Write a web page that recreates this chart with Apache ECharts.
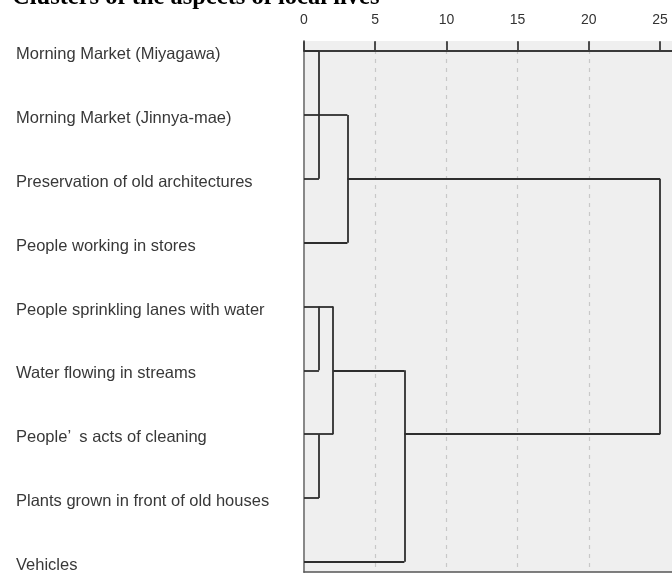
<!DOCTYPE html>
<html><head><meta charset="utf-8">
<script src="https://cdn.jsdelivr.net/npm/echarts@6/dist/echarts.min.js"></script>
<style>html,body{margin:0;padding:0;background:#fff}#c{width:672px;height:574px}</style>
</head><body><div id="c"></div>
<script>
const titleText = 'Clusters of the aspects of local lives';
const leafLabels = [
  'Morning Market (Miyagawa)',
  'Morning Market (Jinnya-mae)',
  'Preservation of old architectures',
  'People working in stores',
  'People sprinkling lanes with water',
  'Water flowing in streams',
  'People\u2019\u2002s acts of cleaning',
  'Plants grown in front of old houses',
  'Vehicles'
];
const tickValues = [0, 5, 10, 15, 20, 25];
// each merge: its children (L = leaf index, M = earlier merge index)
const mergeChildren = [
  ['L0', 'L1', 'L2'],
  ['M0', 'L3'],
  ['L4', 'L5'],
  ['L6', 'L7'],
  ['M2', 'M3'],
  ['M4', 'L8'],
  ['M1', 'M5']
];
const mergeDistances = [1.05, 3.05, 1.05, 1.05, 2.05, 7.05, 25];
const mergeRows = [1, 2, 4, 6, 5, 6, null];

const segments = [];
mergeChildren.forEach((children, i) => {
  const d = mergeDistances[i];
  const rows = [];
  children.forEach(c => {
    const idx = +c.slice(1);
    const row = c[0] === 'L' ? idx : mergeRows[idx];
    const from = c[0] === 'L' ? 0 : mergeDistances[idx];
    rows.push(row);
    segments.push({coords: [[from, row], [d, row]]});
  });
  segments.push({coords: [[d, Math.min(...rows)], [d, Math.max(...rows)]]});
});

const labelShift = 0.055;
const chart = echarts.init(document.getElementById('c'), null, {renderer: 'canvas'});
chart.setOption({
  animation: false,
  backgroundColor: '#fff',
  title: {
    text: titleText, left: 12, top: -15, padding: 0,
    textStyle: {fontFamily: 'Liberation Serif', fontWeight: 'bold', fontSize: 24.5, color: '#000'}
  },
  grid: {left: 304, right: 0, top: 41, bottom: 2, show: true, backgroundColor: '#efefef', borderWidth: 0,
    outerBoundsMode: 'none', containLabel: false},
  xAxis: [{
    type: 'value', position: 'top', min: 0, max: 25.84, interval: 5,
    axisLine: {show: true, lineStyle: {color: '#3a3a3a', width: 1.8}},
    axisTick: {show: true, customValues: tickValues, length: 10, lineStyle: {color: '#3a3a3a', width: 1.8}},
    axisLabel: {customValues: tickValues, margin: 14, fontSize: 14, color: '#333',
      fontFamily: "'Liberation Sans', Arial, sans-serif"},
    splitLine: {show: true, showMinLine: false, showMaxLine: false,
      lineStyle: {type: [4, 5], color: '#c8c8c8', width: 1.2}}
  }, {
    type: 'value', position: 'bottom', min: 0, max: 25.84,
    axisLine: {show: true, lineStyle: {color: '#555', width: 1.6}},
    axisTick: {show: false}, axisLabel: {show: false}, splitLine: {show: false}
  }],
  yAxis: {
    type: 'value', min: -0.16, max: 8.16, inverse: true,
    axisLine: {show: true, lineStyle: {color: '#888', width: 2}},
    axisTick: {show: false}, splitLine: {show: false},
    axisLabel: {
      customValues: leafLabels.map((_, i) => i + labelShift),
      formatter: v => leafLabels[Math.round(v)],
      align: 'left', margin: 288, fontSize: 16.5, color: '#383838',
      fontFamily: "'Liberation Sans', Arial, sans-serif"
    }
  },
  series: [{
    type: 'lines', coordinateSystem: 'cartesian2d', silent: true,
    lineStyle: {color: '#2e2e2e', width: 1.8, opacity: 1},
    data: segments
  }]
});
</script></body></html>
